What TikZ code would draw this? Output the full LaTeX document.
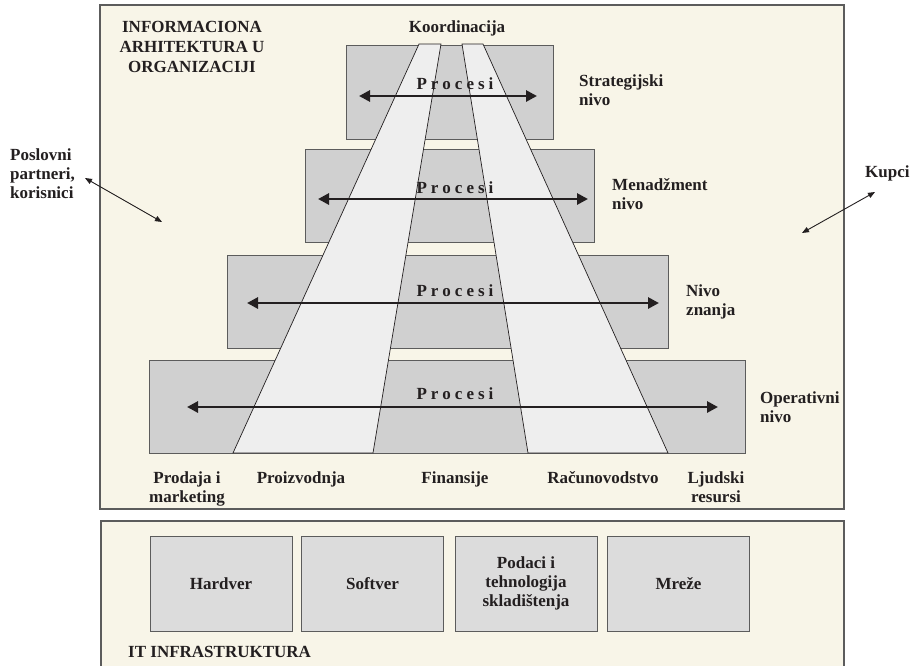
\documentclass[tikz,border=0pt]{standalone}
\usepackage{fontspec}
\setmainfont{Liberation Serif}
\usetikzlibrary{arrows.meta}

\definecolor{cream}{HTML}{F8F5E8}
\definecolor{bandgray}{HTML}{D0D0D0}
\definecolor{lane}{HTML}{EEEEEE}
\definecolor{unitgray}{HTML}{DCDCDC}
\definecolor{ink}{HTML}{231F20}
\definecolor{frame}{HTML}{5C5C5C}

% letter-spaced caption used on every level
\newcommand{\procesiword}{P\kern4pt r\kern4pt o\kern4pt c\kern4pt e\kern4pt s\kern4pt i}

\tikzset{
  panel/.style={draw=frame, line width=1.3pt, fill=cream, inner sep=0pt},
  band/.style={draw=frame, line width=1pt, fill=bandgray, inner sep=0pt},
  lanefill/.style={fill=lane, draw=ink, line width=0.7pt},
  unit/.style={draw=frame, line width=1pt, fill=unitgray, inner sep=0pt,
    minimum width=142pt, minimum height=95pt, align=center},
  procarrow/.style={draw=ink, line width=2.8pt,
    {Triangle[length=11pt,width=11pt]}-{Triangle[length=11pt,width=11pt]}},
  sidearrow/.style={draw=ink, line width=0.9pt,
    {Triangle[length=7pt,width=5.5pt]}-{Triangle[length=7pt,width=5.5pt]}},
  lbl/.style={inner sep=0pt, align=left, anchor=north west},
  clbl/.style={inner sep=0pt, align=center, anchor=north},
  wordlbl/.style={inner sep=0pt, anchor=base},
}

\begin{document}
\begin{tikzpicture}[x=1pt, y=-1pt, font=\fontsize{17}{19}\selectfont\bfseries, text=ink]
\useasboundingbox (0,0) rectangle (914,665);
\fill[white] (0,0) rectangle (914,665);

% outer panels
\node[panel, minimum width=744pt, minimum height=504pt] (arch) at (472,257) {};
\node[panel, minimum width=743pt, minimum height=159pt] (infra) at (472.5,600.5) {};

% organisational levels
\node[band, minimum width=207pt, minimum height=94pt] (b1) at (449.5,92) {};
\node[band, minimum width=289pt, minimum height=93pt] (b2) at (449.5,195.5) {};
\node[band, minimum width=441pt, minimum height=93pt] (b3) at (447.5,301.5) {};
\node[band, minimum width=596pt, minimum height=93pt] (b4) at (447,406.5) {};

% functional lanes running through the levels
\filldraw[lanefill] (419,44) -- (441,44) -- (373,453) -- (233,453) -- cycle;
\filldraw[lanefill] (462,44) -- (483,44) -- (668,453) -- (528,453) -- cycle;

% process arrows
\coordinate (p1l) at (359,96);  \coordinate (p1r) at (537,96);
\coordinate (p2l) at (318,199); \coordinate (p2r) at (588,199);
\coordinate (p3l) at (247,303); \coordinate (p3r) at (659,303);
\coordinate (p4l) at (187,407); \coordinate (p4r) at (718,407);
\draw[procarrow] (p1l) -- (p1r);
\draw[procarrow] (p2l) -- (p2r);
\draw[procarrow] (p3l) -- (p3r);
\draw[procarrow] (p4l) -- (p4r);

\node[wordlbl] (t1) at (455,89) {\procesiword};
\node[wordlbl] (t2) at (455,193) {\procesiword};
\node[wordlbl] (t3) at (455,296) {\procesiword};
\node[wordlbl] (t4) at (455,399) {\procesiword};

% titles and level names
\node[clbl, font=\fontsize{17}{20}\selectfont\bfseries] (title) at (192,21.5)
  {INFORMACIONA\\ARHITEKTURA U\\ORGANIZACIJI};
\node[wordlbl] (koord) at (457,32) {Koordinacija};
\node[lbl] (strat) at (579,74.5) {Strategijski\\nivo};
\node[lbl] (menad) at (612,178) {Menadžment\\nivo};
\node[lbl] (znanje) at (686,284) {Nivo\\znanja};
\node[lbl] (oper) at (760,391) {Operativni\\nivo};

% business functions
\node[clbl] (prodaja) at (187,471) {Prodaja i\\marketing};
\node[wordlbl] (proiz) at (301,483) {Proizvodnja};
\node[wordlbl] (fin) at (455,483) {Finansije};
\node[wordlbl] (racun) at (603,483) {Računovodstvo};
\node[clbl] (ljudi) at (716,471) {Ljudski\\resursi};

% external parties
\node[lbl] (partneri) at (10,148) {Poslovni\\partneri,\\korisnici};
\node[anchor=base west, inner sep=0pt] (kupci) at (865,177) {Kupci};
\coordinate (pa) at (85,178);  \coordinate (pb) at (162,222);
\coordinate (ka) at (875,192); \coordinate (kb) at (802,233);
\draw[sidearrow] (pa) -- (pb);
\draw[sidearrow] (ka) -- (kb);

% IT infrastructure
\node[unit] (hw) at (221,583.5) {Hardver};
\node[unit] (sw) at (372.5,583.5) {Softver};
\node[unit] (data) at (526,583.5) {Podaci i\\tehnologija\\skladištenja};
\node[unit] (net) at (678.5,583.5) {Mreže};
\node[anchor=base west, inner sep=0pt] (itlbl) at (128,657) {IT INFRASTRUKTURA};
\end{tikzpicture}
\end{document}
